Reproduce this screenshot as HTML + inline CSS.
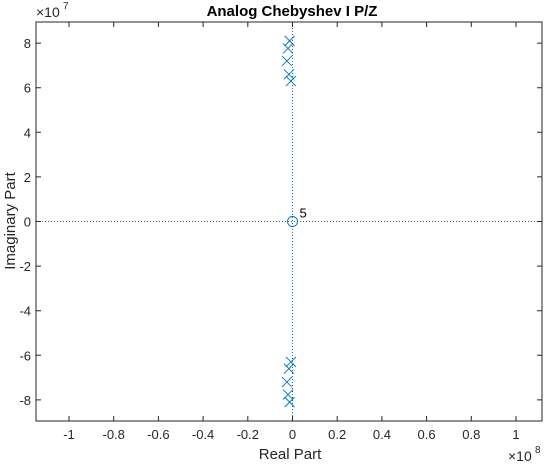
<!DOCTYPE html>
<html><head><meta charset="utf-8"><style>
body{margin:0;background:#fff;font-family:"Liberation Sans",sans-serif}
svg text{font-family:"Liberation Sans",sans-serif}
</style></head><body>
<svg width="547" height="463">
<rect width="547" height="463" fill="#fff"/>
<g id="plot"></g>
</svg>
<script>
const xTicks=[-1,-0.8,-0.6,-0.4,-0.2,0,0.2,0.4,0.6,0.8,1];
const yTicks=[-8,-6,-4,-2,0,2,4,6,8];
const poleRe=[-0.013,-0.020,-0.025,-0.016,-0.007];
const poleIm=[8.1,7.76,7.2,6.6,6.3];
const zeroRe=[0];const zeroIm=[0];const zeroMult=["5"];
const L=36,R=542,T=22,B=421;
const X=v=>292.5+v*223.5;
const Y=v=>221.5-v*22.3;
const NS="http://www.w3.org/2000/svg";
const g=document.getElementById('plot');
function mk(t,a,txt){const e=document.createElementNS(NS,t);for(const k in a)e.setAttribute(k,a[k]);if(txt!==undefined)e.textContent=txt;g.appendChild(e);return e;}
let e;
e=mk('rect',{x:L,y:T,width:R-L,height:B-T,fill:'#fff',stroke:'none'});


e=mk('line',{x1:L,x2:R,y1:Y(0),y2:Y(0),stroke:'#555','stroke-width':1,'stroke-dasharray':'1,2'});


e=mk('line',{x1:X(0),x2:X(0),y1:T,y2:B,stroke:'#0072BD','stroke-width':1,'stroke-dasharray':'1,2'});


e=mk('path',{d:`M${L},${T}H${R}V${B}H${L}Z`,fill:'none',stroke:'#262626','stroke-width':1});


xTicks.forEach(v=>{const x=X(v);
 e=mk('path',{d:`M${x},${B}v-5M${x},${T}v5`,stroke:'#262626','stroke-width':1});
 
 
 e=mk('text',{x:x,y:B+18,'text-anchor':'middle','font-size':13,fill:'#262626'},String(v));
 
 
});
yTicks.forEach(v=>{const y=Y(v);
 e=mk('path',{d:`M${L},${y}h5M${R},${y}h-5`,stroke:'#262626','stroke-width':1});
 
 
 e=mk('text',{x:L-5,y:y+5,'text-anchor':'end','font-size':13,fill:'#262626'},String(v));
 
 
});
poleRe.forEach((r,i)=>{[1,-1].forEach(s=>{const x=X(r),y=Y(s*poleIm[i]);
 e=mk('path',{d:`M${x-5},${y-5}L${x+5},${y+5}M${x+5},${y-5}L${x-5},${y+5}`,stroke:'#0072BD','stroke-width':0.9});
 
 
});});
zeroRe.forEach((r,i)=>{
 e=mk('circle',{cx:X(r),cy:Y(zeroIm[i]),r:5,fill:'none',stroke:'#0072BD','stroke-width':0.9});
 
 
 e=mk('text',{x:X(r)+7,y:Y(zeroIm[i])-4,'font-size':13,fill:'#000'},zeroMult[i]);
 
 
});
e=mk('text',{x:292,y:16,'text-anchor':'middle','font-size':15,'font-weight':'bold',fill:'#000'},'Analog Chebyshev I P/Z');


e=mk('text',{x:290,y:459,'text-anchor':'middle','font-size':15,fill:'#262626'},'Real Part');


e=mk('text',{x:0,y:0,'text-anchor':'middle','font-size':15,fill:'#262626',transform:'translate(15,221) rotate(-90)'},'Imaginary Part');


e=mk('text',{x:36,y:17,'font-size':14,fill:'#262626'},'×10');


e=mk('text',{x:63,y:9,'font-size':10,fill:'#262626'},'7');


e=mk('text',{x:508,y:461,'font-size':14,fill:'#262626'},'×10');


e=mk('text',{x:535,y:453,'font-size':10,fill:'#262626'},'8');


</script>
</body></html>
